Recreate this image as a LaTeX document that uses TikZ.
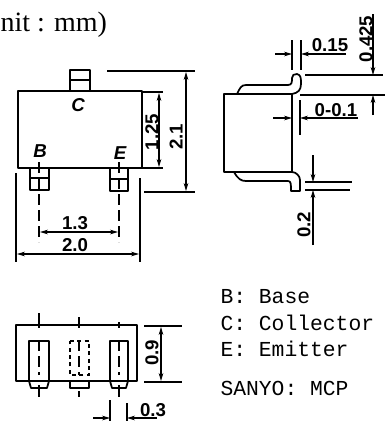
\documentclass[tikz,border=0pt]{standalone}
\usepackage{fontspec}
\setmainfont{Liberation Serif}
\setsansfont{Liberation Sans}
\setmonofont{Liberation Mono}
\usetikzlibrary{arrows.meta}
\tikzset{every picture/.style={line width=0.75pt}}
\tikzset{
  outline/.style={line width=1.3pt,line join=round},
  thin line/.style={line width=0.8pt},
  dim/.style={line width=0.8pt,{Stealth[length=6pt,width=3.5pt]}-{Stealth[length=6pt,width=3.5pt]}},
  dim in/.style={line width=0.8pt,-{Stealth[length=6pt,width=3.5pt]}},
  center line/.style={line width=0.9pt,dash pattern={on 8pt off 4pt}},
  hidden/.style={line width=1.1pt,dash pattern={on 3pt off 2.5pt}},
  size label/.style={font=\sffamily\bfseries\fontsize{14}{16}\selectfont,inner sep=0.75pt},
  pin label/.style={font=\sffamily\bfseries\itshape\fontsize{14}{16}\selectfont,inner sep=0.75pt},
  legend label/.style={font=\ttfamily\fontsize{16}{18}\selectfont,anchor=west,inner sep=0pt},
}
\begin{document}
\begin{tikzpicture}[x=0.75pt,y=0.75pt,yscale=-1,xscale=1]
\useasboundingbox (0,0) rectangle (385,421);

%Top view: body and leads
\draw [outline] (18,91) rectangle (142,168);
\draw [outline] (70,91) -- (70,70) -- (90,70) -- (90,91);
\draw [thin line] (70,80) -- (90,80);
\draw [outline] (30,168) -- (30,190) -- (49,190) -- (49,168);
\draw [thin line] (30,178) -- (49,178);
\draw [outline] (110,168) -- (110,191) -- (128,191) -- (128,168);
\draw [thin line] (110,179) -- (128,179);
%Top view: dimensions
\draw [thin line] (107,71) -- (195,71);
\draw [thin line] (144,192) -- (195,192);
\draw [dim] (186,72) -- (186,191);
\draw [thin line] (142,92) -- (163,92);
\draw [thin line] (142,168) -- (163,168);
\draw [dim] (159,93) -- (159,167);
\draw [center line] (39,162) -- (39,242);
\draw [center line] (119,162) -- (119,242);
\draw [dim] (40,232) -- (118,232);
\draw [thin line] (16,173) -- (16,262);
\draw [thin line] (140,178) -- (140,262);
\draw [dim] (17,254) -- (139,254);

%Side view: body and leads
\draw [outline] (224,94) rectangle (292,172);
\draw [outline] (237,94) .. controls (240,88) and (241,85) .. (246,85) -- (288,85) .. controls (292,85) and (292,82) .. (292,78) .. controls (292,75) and (294,74) .. (297,74) .. controls (301,75) and (301,78) .. (301,84) .. controls (301,90) and (298,93) .. (292,94);
\draw [outline] (234,172) .. controls (238,179) and (241,181) .. (246,181) -- (288,181) .. controls (291,181) and (291,184) .. (291,191) -- (300,191) -- (300,180) .. controls (300,176) and (296,172) .. (292,172);
%Side view: dimensions
\draw [thin line] (292,40) -- (292,70);
\draw [thin line] (301,40) -- (301,70);
\draw [dim in] (275,54) -- (292,54);
\draw [dim in] (346,54) -- (301,54);
\draw [thin line] (305,75) -- (383,75);
\draw [thin line] (300,95) -- (385,95);
\draw [dim in] (373,14) -- (373,75);
\draw [dim in] (373,115) -- (373,95);
\draw [thin line] (300,100) -- (300,135);
\draw [dim in] (273,118) -- (292,118);
\draw [dim in] (358,118) -- (300,118);
\draw [thin line] (305,182) -- (352,182);
\draw [thin line] (305,190) -- (350,190);
\draw [dim in] (313,155) -- (313,182);
\draw [dim in] (313,245) -- (313,190);

%Bottom view: body and leads
\draw [outline] (16,325) rectangle (137,381);
\draw [outline] (29,341) rectangle (49,381);
\draw [outline] (110,341) rectangle (128,381);
\draw [hidden] (70,341) -- (89,341) -- (89,375) -- (70,375) -- cycle;
\draw [outline] (29,381) -- (31,388) -- (47,388) -- (49,381);
\draw [outline] (70,381) -- (70,388) -- (89,388) -- (89,381);
\draw [outline] (110,381) -- (112,388) -- (126,388) -- (128,381);
\draw [thin line] (39,313) -- (39,328);
\draw [thin line] (79,317) -- (79,328);
\draw [thin line] (119,322) -- (119,328);
\draw [center line] (39,340) -- (39,375);
\draw [center line] (79,340) -- (79,375);
\draw [center line] (119,340) -- (119,375);
\draw [thin line] (39,385) -- (39,397);
\draw [thin line] (79,391) -- (79,397);
\draw [thin line] (119,385) -- (119,397);
%Bottom view: dimensions
\draw [thin line] (144,326) -- (182,326);
\draw [thin line] (144,382) -- (182,382);
\draw [dim] (161,327) -- (161,381);
\draw [thin line] (110,400) -- (110,421);
\draw [thin line] (127,403) -- (127,421);
\draw [dim in] (93,418) -- (110,418);
\draw [dim in] (157,418) -- (127,418);

% Text Node
\node (unit) [anchor=west,inner sep=0pt,font=\fontsize{21}{24}\selectfont] at (0,25) {nit : mm)};
% Text Node
\node (pinC) [pin label] at (78,105) {C};
\node (pinB) [pin label] at (40,151) {B};
\node (pinE) [pin label] at (120,153) {E};
% Text Node
\node (sizeA) [size label,rotate=90] at (152,132) {1.25};
\node (sizeB) [size label,rotate=90] at (176,137) {2.1};
\node (sizeC) [size label] at (75,223) {1.3};
\node (sizeD) [size label] at (75,245) {2.0};
\node (sizeE) [size label,rotate=90] at (152,353) {0.9};
\node (sizeF) [size label] at (153,410) {0.3};
\node (sizeG) [size label] at (330,45) {0.15};
\node (sizeH) [size label,rotate=90] at (366,39) {0.425};
\node (sizeI) [size label] at (336,110) {0-0.1};
\node (sizeJ) [size label,rotate=90] at (304,225) {0.2};
% Text Node
\node (legendB) [legend label] at (220,297) {B: Base};
\node (legendC) [legend label] at (220,323) {C: Collector};
\node (legendE) [legend label] at (220,349) {E: Emitter};
\node (legendS) [legend label] at (220,388) {SANYO: MCP};

\end{tikzpicture}
\end{document}
